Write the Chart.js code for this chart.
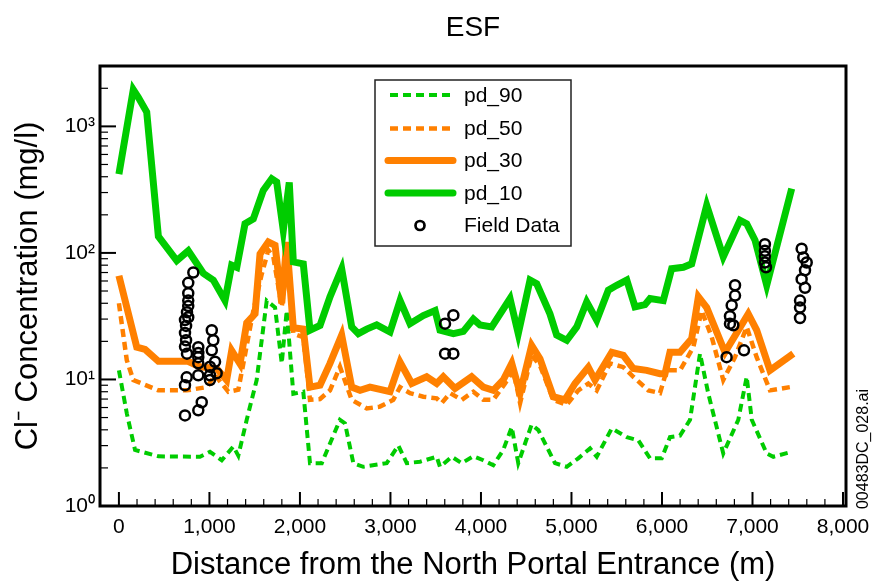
<!DOCTYPE html>
<html>
<head>
<meta charset="utf-8">
<script src="https://cdn.jsdelivr.net/npm/chart.js@4.4.1/dist/chart.umd.min.js"></script>
<style>
html,body{margin:0;padding:0;background:#fff;}
#wrap{width:886px;height:586px;}
</style>
</head>
<body>
<div id="wrap"><canvas id="c" width="886" height="586"></canvas></div>
<script>
// ---------- DATA ----------
const chartTitle = "ESF";
const xAxisTitle = "Distance from the North Portal Entrance (m)";
const yAxisTitle = "Cl\u207B Concentration (mg/l)";
const sideNote = "00483DC_028.ai";

const xTickValues = [0,1000,2000,3000,4000,5000,6000,7000,8000];
const yTickValues = [1,10,100,1000];
const yTickLabels = ["10\u2070","10\u00B9","10\u00B2","10\u00B3"];

const seriesNames = ["pd_90","pd_50","pd_30","pd_10","Field Data"];

const pd90Dist = [0,87,178,436,896,1006,1136,1264,1319,1412,1522,1633,1725,1799,1854,1927,2037,2111,2241,2442,2498,2590,2700,2958,3087,3180,3327,3511,3547,3677,3787,3916,4026,4136,4246,4340,4412,4560,4634,4818,4948,5075,5205,5279,5445,5611,5739,5868,5997,6088,6199,6310,6420,6512,6677,6843,6936,6992,7157,7230,7433];
const pd90Val  = [11.8,5.4,2.77,2.47,2.45,2.68,2.3,2.95,2.5,4.8,9.9,42,37,13.4,35,7.7,8,2.18,2.18,4.8,4.5,2.18,2.04,2.18,3.0,2.18,2.24,2.45,2.04,2.45,2.18,2.47,2.3,2.1,2.77,4.2,2.18,4.4,3.98,2.18,2.04,2.38,2.85,2.45,4.1,3.5,3.3,2.38,2.38,3.5,3.6,4.8,16,7.7,2.6,4.8,10.5,4.8,2.6,2.45,2.68];

const pd50Dist = [0,87,159,436,749,970,1062,1209,1319,1375,1485,1578,1651,1706,1799,1871,1927,2037,2111,2222,2332,2442,2572,2738,2884,3031,3106,3216,3363,3511,3566,3659,3787,3916,4026,4136,4266,4358,4432,4560,4652,4799,4948,5075,5186,5279,5425,5573,5683,5849,5978,6052,6199,6346,6438,6550,6677,6807,6936,7046,7193,7415];
const pd50Val  = [40,14.2,9.9,8.2,8.2,8.7,10.8,8.0,8.3,13.4,35,68,105,93,37.5,93,23,21.6,6.9,7.0,8.2,12.6,6.9,5.9,6.1,6.9,8.7,7.8,7.3,7.1,6.5,7.8,6.9,8.0,6.9,6.9,9.3,11.8,6.5,15.5,12.9,6.9,6.3,8.2,9.3,8.2,13.4,12.5,10.5,8.2,7.8,11.8,11.8,18,35,21.6,9.9,15,26,15,8.2,8.7];

const pd30Dist = [0,197,289,436,762,896,1080,1190,1246,1338,1412,1504,1559,1651,1725,1799,1854,1927,2037,2111,2222,2332,2461,2572,2664,2774,2995,3106,3235,3400,3511,3584,3713,3897,4026,4136,4246,4340,4432,4560,4652,4799,4928,5039,5186,5260,5445,5573,5683,5831,5978,6033,6088,6199,6328,6402,6494,6696,6953,7046,7193,7451];
const pd30Val  = [66,18,17.3,13.9,13.9,12.6,12.2,9.9,16.9,13.3,28,33,98,122,115,40,122,25.6,25,8.7,9,13.4,22.4,8.7,8.2,8.7,8.0,13.7,9.3,10.5,9.3,10.5,8.5,10.5,8.7,8.2,9.9,13.4,7.8,18.6,14.6,7.3,6.9,9.3,12.5,9.9,16.4,15.5,12.2,11.8,11.1,11.1,16.4,16.4,21,45,37,16.4,33,24.5,11.8,16];

const pd10Dist = [0,159,214,307,436,639,766,932,1043,1172,1246,1302,1393,1485,1595,1688,1743,1816,1882,1927,2037,2111,2222,2332,2461,2572,2645,2738,2848,2995,3106,3216,3363,3493,3547,3695,3805,3916,3989,4119,4321,4412,4542,4616,4762,4836,4948,5058,5168,5279,5407,5500,5611,5702,5812,5868,6014,6107,6236,6328,6494,6677,6862,6936,7028,7157,7433];
const pd10Val  = [420,1950,1700,1300,135,87,104,69,61,42,80,77,170,186,312,386,363,151,360,85,82,24.5,26.7,45,75,26,23,25,27,23.7,42,27.6,32,35,24.5,23,24,30,27,26,43.6,23,61,57,33,22.4,20.4,26,41,29.4,50.7,55.5,61,37.5,39,43.6,42,75,77,82,238,93,181,170,126,55.5,322];

const fieldDist = [822,766,766,766,766,752,766,730,742,730,742,730,752,749,730,730,
  877,877,877,877,877,915,877,
  1026,1043,1026,1062,1006,1006,1080,1006,
  3603,3695,3603,3695,
  6807,6807,6770,6751,6751,6788,6714,6906,
  7137,7137,7137,7137,7149,
  7543,7561,7599,7580,7543,7580,7525,7525,7525];
const fieldVal = [70,58,48,42,38,34,31,29.5,26.5,23.3,20.4,18.2,16,10.4,9,5.2,
  18,16.2,15,13.4,10.8,6.6,5.7,
  24.5,20.4,17,13.8,12.6,10.8,11.2,9.9,
  27.6,32.2,16,16,
  55.5,46,38.5,31.6,27.6,26.8,15,17,
  117,104,94,84,77,
  108,92,84,73,62,53,42,37,30.6];

// ---------- BUILD ----------
const GREEN = '#00cc00';
const ORANGE = '#ff8000';
function pts(xs, ys){ return xs.map((x,i)=>({x:x, y:ys[i]})); }

Chart.defaults.font.family = "'Liberation Sans', Arial, Helvetica, sans-serif";
Chart.defaults.color = '#000';

const datasets = [
  {label: seriesNames[0], data: pts(pd90Dist,pd90Val), borderColor: GREEN, borderWidth: 4, borderDash:[8,5], pointRadius:0, order:4, fill:false, tension:0},
  {label: seriesNames[1], data: pts(pd50Dist,pd50Val), borderColor: ORANGE, borderWidth: 4.5, borderDash:[8,5], pointRadius:0, order:3, fill:false, tension:0},
  {label: seriesNames[2], data: pts(pd30Dist,pd30Val), borderColor: ORANGE, borderWidth: 7, pointRadius:0, order:2, fill:false, tension:0},
  {label: seriesNames[3], data: pts(pd10Dist,pd10Val), borderColor: GREEN, borderWidth: 7, pointRadius:0, order:1, fill:false, tension:0},
  {label: seriesNames[4], data: pts(fieldDist,fieldVal), showLine:false, pointRadius:5, pointBorderWidth:2.5, pointBorderColor:'#000', pointBackgroundColor:'rgba(0,0,0,0)', borderColor:'#000', order:0}
];

const axisDecor = {
  id: 'axisDecor',
  beforeDatasetsDraw(chart){
    const ctx = chart.ctx, a = chart.chartArea, xs = chart.scales.x, ys = chart.scales.y;
    ctx.save();
    ctx.strokeStyle = '#000';
    for (let v = 0; v <= 8000; v += 200){
      const px = xs.getPixelForValue(v);
      const major = v % 1000 === 0;
      ctx.lineWidth = major ? 2 : 1.2;
      ctx.beginPath(); ctx.moveTo(px, a.bottom); ctx.lineTo(px, a.bottom - (major ? 14 : 7)); ctx.stroke();
    }
    for (const dec of yTickValues){
      for (let m = 1; m <= 9; m++){
        const v = dec*m;
        if (v > ys.max) break;
        const py = ys.getPixelForValue(v);
        const major = m === 1;
        ctx.lineWidth = major ? 2 : 1.2;
        ctx.beginPath(); ctx.moveTo(a.left, py); ctx.lineTo(a.left + (major ? 16 : 8), py); ctx.stroke();
      }
    }
    ctx.restore();
  },
  afterDraw(chart){
    const ctx = chart.ctx, a = chart.chartArea;
    ctx.save();
    ctx.strokeStyle = '#000'; ctx.lineWidth = 3;
    ctx.strokeRect(a.left, a.top, a.right - a.left, a.bottom - a.top);
    // legend box
    const L = {x:375, y:80, w:196, h:166};
    ctx.fillStyle = '#fff';
    ctx.fillRect(L.x, L.y, L.w, L.h);
    ctx.strokeStyle = '#222'; ctx.lineWidth = 1.5;
    ctx.strokeRect(L.x, L.y, L.w, L.h);
    const rows = [95, 128.5, 160.5, 193, 225];
    ctx.font = "21px 'Liberation Sans', Arial, sans-serif";
    ctx.textBaseline = 'middle'; ctx.textAlign = 'left';
    chart.data.datasets.forEach((ds, i) => {
      const y = rows[i];
      if (ds.showLine === false){
        ctx.beginPath(); ctx.arc(420, y + 0.5, 4.5, 0, Math.PI*2);
        ctx.strokeStyle = '#000'; ctx.lineWidth = 2.7; ctx.stroke();
      } else {
        ctx.strokeStyle = ds.borderColor; ctx.lineWidth = ds.borderWidth;
        if (ds.borderDash){ ctx.setLineDash(ds.borderDash); ctx.lineCap = 'butt'; ctx.beginPath(); ctx.moveTo(390, y); ctx.lineTo(452, y); ctx.stroke(); ctx.setLineDash([]); }
        else { ctx.lineCap = 'round'; ctx.beginPath(); ctx.moveTo(388, y); ctx.lineTo(453, y); ctx.stroke(); ctx.lineCap = 'butt'; }
      }
      ctx.fillStyle = '#000';
      ctx.fillText(ds.label, 464, y + 1);
    });
    // side note
    ctx.translate(864, 449); ctx.rotate(-Math.PI/2);
    ctx.font = "16px 'Liberation Sans', Arial, sans-serif";
    ctx.textAlign = 'center'; ctx.textBaseline = 'middle'; ctx.fillStyle = '#000';
    ctx.fillText(sideNote, 0, 0);
    ctx.restore();
  }
};

new Chart(document.getElementById('c'), {
  type: 'line',
  data: { datasets: datasets },
  options: {
    responsive: false,
    animation: false,
    layout: { padding: { left: 0, right: 40, top: 0, bottom: 0 } },
    plugins: {
      legend: { display: false },
      tooltip: { enabled: false },
      title: { display: true, text: chartTitle, fullSize: false, font: { size: 28, weight: 'normal' }, padding: { top: 11, bottom: 21.4 }, color: '#000' }
    },
    scales: {
      x: {
        type: 'linear', min: -209, max: 8033,
        afterBuildTicks: s => { s.ticks = xTickValues.map(v => ({value: v})); },
        afterFit: s => { s.height = 80; },
        grid: { display: false, drawTicks: false },
        border: { display: false },
        ticks: { font: { size: 21 }, padding: 9, maxRotation: 0, autoSkip: false, callback: v => v.toLocaleString('en-US') },
        title: { display: true, text: xAxisTitle, font: { size: 31 }, padding: { top: 0, bottom: 2 } }
      },
      y: {
        type: 'logarithmic', min: 1, max: 3000,
        afterBuildTicks: s => { s.ticks = yTickValues.map(v => ({value: v})); },
        afterFit: s => { s.width = 100; },
        grid: { display: false, drawTicks: false },
        border: { display: false },
        ticks: { font: { size: 21 }, padding: 5, autoSkip: false, callback: v => { const i = yTickValues.indexOf(v); return i >= 0 ? yTickLabels[i] : ''; } },
        title: { display: true, text: yAxisTitle, font: { size: 31 }, padding: { top: 10, bottom: 0 } }
      }
    }
  },
  plugins: [axisDecor]
});
</script>
</body>
</html>
